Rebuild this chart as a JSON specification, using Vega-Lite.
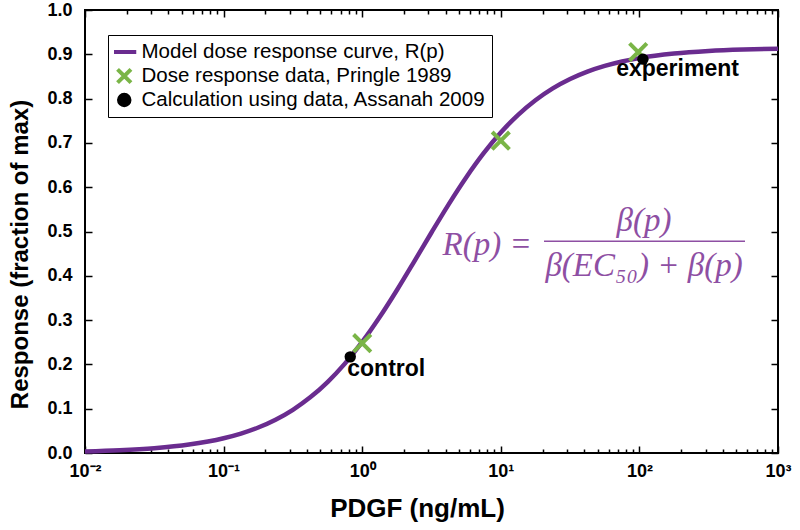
{
  "$schema": "https://vega.github.io/schema/vega-lite/v6.json",
  "width": 693,
  "height": 443,
  "autosize": {"type": "none"},
  "padding": {"left": 85, "top": 10, "right": 22, "bottom": 77},
  "background": "white",
  "datasets": {
    "curve": [
      {"p": 0.01, "r": 0.0034, "series": "Model dose response curve, R(p)"},
      {"p": 0.01778, "r": 0.0061, "series": "Model dose response curve, R(p)"},
      {"p": 0.03162, "r": 0.0108, "series": "Model dose response curve, R(p)"},
      {"p": 0.05623, "r": 0.019, "series": "Model dose response curve, R(p)"},
      {"p": 0.1, "r": 0.0333, "series": "Model dose response curve, R(p)"},
      {"p": 0.1334, "r": 0.0439, "series": "Model dose response curve, R(p)"},
      {"p": 0.1778, "r": 0.0575, "series": "Model dose response curve, R(p)"},
      {"p": 0.2371, "r": 0.0751, "series": "Model dose response curve, R(p)"},
      {"p": 0.3162, "r": 0.0975, "series": "Model dose response curve, R(p)"},
      {"p": 0.4217, "r": 0.1256, "series": "Model dose response curve, R(p)"},
      {"p": 0.5623, "r": 0.1602, "series": "Model dose response curve, R(p)"},
      {"p": 0.7499, "r": 0.2018, "series": "Model dose response curve, R(p)"},
      {"p": 1, "r": 0.2507, "series": "Model dose response curve, R(p)"},
      {"p": 1.3335, "r": 0.3063, "series": "Model dose response curve, R(p)"},
      {"p": 1.778, "r": 0.3674, "series": "Model dose response curve, R(p)"},
      {"p": 2.3714, "r": 0.4321, "series": "Model dose response curve, R(p)"},
      {"p": 3.162, "r": 0.4978, "series": "Model dose response curve, R(p)"},
      {"p": 4.217, "r": 0.5619, "series": "Model dose response curve, R(p)"},
      {"p": 5.623, "r": 0.6219, "series": "Model dose response curve, R(p)"},
      {"p": 7.499, "r": 0.6761, "series": "Model dose response curve, R(p)"},
      {"p": 10, "r": 0.7233, "series": "Model dose response curve, R(p)"},
      {"p": 13.335, "r": 0.7633, "series": "Model dose response curve, R(p)"},
      {"p": 17.78, "r": 0.7963, "series": "Model dose response curve, R(p)"},
      {"p": 23.714, "r": 0.823, "series": "Model dose response curve, R(p)"},
      {"p": 31.62, "r": 0.8442, "series": "Model dose response curve, R(p)"},
      {"p": 42.17, "r": 0.8609, "series": "Model dose response curve, R(p)"},
      {"p": 56.23, "r": 0.8738, "series": "Model dose response curve, R(p)"},
      {"p": 74.99, "r": 0.8838, "series": "Model dose response curve, R(p)"},
      {"p": 100, "r": 0.8914, "series": "Model dose response curve, R(p)"},
      {"p": 177.8, "r": 0.9016, "series": "Model dose response curve, R(p)"},
      {"p": 316.2, "r": 0.9074, "series": "Model dose response curve, R(p)"},
      {"p": 562.3, "r": 0.9107, "series": "Model dose response curve, R(p)"},
      {"p": 1000, "r": 0.9126, "series": "Model dose response curve, R(p)"}
    ],
    "pringle": [
      {"p": 1, "r": 0.248, "series": "Dose response data, Pringle 1989"},
      {"p": 10, "r": 0.705, "series": "Dose response data, Pringle 1989"},
      {"p": 98, "r": 0.905, "series": "Dose response data, Pringle 1989"}
    ],
    "assanah": [
      {"p": 0.82, "r": 0.217, "series": "Calculation using data, Assanah 2009"},
      {"p": 106, "r": 0.889, "series": "Calculation using data, Assanah 2009"}
    ],
    "labels": [
      {"p": 0.78, "r": 0.19, "label": "control"},
      {"p": 68, "r": 0.866, "label": "experiment"}
    ],
    "formulaLeft": [
      {"p": 3.8, "r": 0.469, "text": "R(p) ="}
    ],
    "formulaCenter": [
      {"p": 108, "r": 0.524, "text": "β(p)"},
      {"p": 108, "r": 0.423, "text": "β(EC₅₀) + β(p)"}
    ],
    "fracline": [
      {"p": 20.5, "p2": 578, "r": 0.478}
    ]
  },
  "layer": [
    {
      "data": {"name": "curve"},
      "mark": {"type": "line", "strokeWidth": 4.5, "interpolate": "monotone"},
      "encoding": {
        "x": {
          "field": "p", "type": "quantitative",
          "scale": {"type": "log", "domain": [0.01, 1000], "nice": false},
          "axis": {
            "orient": "bottom",
            "values": [0.01, 0.1, 1, 10, 100, 1000],
            "labelExpr": "datum.value == 0.01 ? '10⁻²' : datum.value == 0.1 ? '10⁻¹' : datum.value == 1 ? '10⁰' : datum.value == 10 ? '10¹' : datum.value == 100 ? '10²' : datum.value == 1000 ? '10³' : ''",
            "tickSize": -7,
            "labelPadding": 16,
            "labelFlush": false,
            "title": "PDGF (ng/mL)",
            "titleFontSize": 26,
            "titlePadding": 15,
            "titleX": 332
          }
        },
        "y": {
          "field": "r", "type": "quantitative",
          "scale": {"domain": [0, 1], "nice": false, "zero": false},
          "axis": {
            "orient": "left",
            "values": [0, 0.1, 0.2, 0.3, 0.4, 0.5, 0.6, 0.7, 0.8, 0.9, 1.0],
            "format": ".1f",
            "tickSize": -7,
            "labelPadding": 20,
            "title": "Response (fraction of max)",
            "titleFontSize": 24,
            "titlePadding": 14,
            "titleY": 244
          }
        },
        "color": {
          "field": "series", "type": "nominal",
          "scale": {
            "domain": ["Model dose response curve, R(p)", "Dose response data, Pringle 1989", "Calculation using data, Assanah 2009"],
            "range": ["#6a2c8f", "#7ab547", "#000000"]
          },
          "legend": {
            "orient": "none",
            "legendX": 23,
            "legendY": 25,
            "title": null,
            "strokeColor": "black",
            "fillColor": "white",
            "padding": 6,
            "labelFont": "Liberation Sans",
            "labelFontSize": 20.5,
            "labelColor": "black",
            "labelOffset": 7,
            "labelLimit": 500,
            "symbolSize": 441,
            "symbolStrokeWidth": 4,
            "symbolType": "stroke",
            "clipHeight": 22,
            "rowPadding": 2,
            "encode": {
              "symbols": {
                "update": {
                  "shape": {"signal": "datum.value === 'Model dose response curve, R(p)' ? 'stroke' : datum.value === 'Dose response data, Pringle 1989' ? 'M-1,-1L1,1M1,-1L-1,1' : 'circle'"},
                  "size": {"signal": "datum.value === 'Model dose response curve, R(p)' ? 576 : datum.value === 'Dose response data, Pringle 1989' ? 180 : 110"},
                  "fill": {"signal": "datum.value === 'Calculation using data, Assanah 2009' ? '#000000' : 'transparent'"},
                  "stroke": {"signal": "datum.value === 'Model dose response curve, R(p)' ? '#6a2c8f' : datum.value === 'Dose response data, Pringle 1989' ? '#7ab547' : 'transparent'"},
                  "strokeWidth": {"value": 4}
                }
              }
            }
          }
        }
      }
    },
    {
      "data": {"name": "pringle"},
      "mark": {"type": "point", "shape": "M-1,-1L1,1M1,-1L-1,1", "filled": false, "strokeWidth": 4, "size": 300, "opacity": 1},
      "encoding": {
        "x": {
          "field": "p", "type": "quantitative",
          "scale": {"type": "log", "domain": [0.01, 1000], "nice": false},
          "axis": {"orient": "top", "values": [0.01, 0.1, 1, 10, 100, 1000], "labels": false, "tickSize": -7, "title": null}
        },
        "y": {
          "field": "r", "type": "quantitative",
          "scale": {"domain": [0, 1], "nice": false, "zero": false},
          "axis": {"orient": "right", "values": [0, 0.1, 0.2, 0.3, 0.4, 0.5, 0.6, 0.7, 0.8, 0.9, 1.0], "labels": false, "tickSize": -7, "title": null}
        },
        "color": {
          "field": "series", "type": "nominal",
          "scale": {
            "domain": ["Model dose response curve, R(p)", "Dose response data, Pringle 1989", "Calculation using data, Assanah 2009"],
            "range": ["#6a2c8f", "#7ab547", "#000000"]
          }
        }
      }
    },
    {
      "data": {"name": "assanah"},
      "mark": {"type": "point", "shape": "circle", "filled": true, "size": 130, "opacity": 1},
      "encoding": {
        "x": {
          "field": "p", "type": "quantitative",
          "scale": {"type": "log", "domain": [0.01, 1000], "nice": false},
          "axis": {"orient": "bottom", "values": [0.02,0.03,0.04,0.05,0.06,0.07,0.08,0.09,0.2,0.3,0.4,0.5,0.6,0.7,0.8,0.9,2,3,4,5,6,7,8,9,20,30,40,50,60,70,80,90,200,300,400,500,600,700,800,900], "labels": false, "tickSize": -4, "title": null}
        },
        "y": {
          "field": "r", "type": "quantitative",
          "scale": {"domain": [0, 1], "nice": false, "zero": false},
          "axis": null
        },
        "color": {
          "field": "series", "type": "nominal",
          "scale": {
            "domain": ["Model dose response curve, R(p)", "Dose response data, Pringle 1989", "Calculation using data, Assanah 2009"],
            "range": ["#6a2c8f", "#7ab547", "#000000"]
          }
        }
      }
    },
    {
      "data": {"name": "labels"},
      "mark": {"type": "text", "align": "left", "baseline": "middle", "font": "Liberation Sans", "fontWeight": "bold", "fontSize": 23, "color": "black"},
      "encoding": {
        "x": {
          "field": "p", "type": "quantitative",
          "scale": {"type": "log", "domain": [0.01, 1000], "nice": false},
          "axis": {"orient": "top", "values": [0.02,0.03,0.04,0.05,0.06,0.07,0.08,0.09,0.2,0.3,0.4,0.5,0.6,0.7,0.8,0.9,2,3,4,5,6,7,8,9,20,30,40,50,60,70,80,90,200,300,400,500,600,700,800,900], "labels": false, "tickSize": -4, "title": null}
        },
        "y": {
          "field": "r", "type": "quantitative",
          "scale": {"domain": [0, 1], "nice": false, "zero": false},
          "axis": null
        },
        "text": {"field": "label"}
      }
    },
    {
      "data": {"name": "formulaLeft"},
      "mark": {"type": "text", "align": "left", "baseline": "middle", "font": "Liberation Serif", "fontStyle": "italic", "fontSize": 33, "color": "#8e4fa3"},
      "encoding": {
        "x": {
          "field": "p", "type": "quantitative",
          "scale": {"type": "log", "domain": [0.01, 1000], "nice": false},
          "axis": null
        },
        "y": {
          "field": "r", "type": "quantitative",
          "scale": {"domain": [0, 1], "nice": false, "zero": false},
          "axis": null
        },
        "text": {"field": "text"}
      }
    },
    {
      "data": {"name": "formulaCenter"},
      "mark": {"type": "text", "align": "center", "baseline": "middle", "font": "Liberation Serif", "fontStyle": "italic", "fontSize": 33, "color": "#8e4fa3"},
      "encoding": {
        "x": {
          "field": "p", "type": "quantitative",
          "scale": {"type": "log", "domain": [0.01, 1000], "nice": false},
          "axis": null
        },
        "y": {
          "field": "r", "type": "quantitative",
          "scale": {"domain": [0, 1], "nice": false, "zero": false},
          "axis": null
        },
        "text": {"field": "text"}
      }
    },
    {
      "data": {"name": "fracline"},
      "mark": {"type": "rule", "strokeWidth": 1.5, "color": "#8e4fa3"},
      "encoding": {
        "x": {
          "field": "p", "type": "quantitative",
          "scale": {"type": "log", "domain": [0.01, 1000], "nice": false},
          "axis": null
        },
        "x2": {"field": "p2"},
        "y": {
          "field": "r", "type": "quantitative",
          "scale": {"domain": [0, 1], "nice": false, "zero": false},
          "axis": null
        }
      }
    }
  ],
  "resolve": {"axis": {"x": "independent", "y": "independent"}},
  "config": {
    "view": {"stroke": "black", "strokeWidth": 2},
    "axis": {
      "domain": false,
      "grid": false,
      "tickColor": "black",
      "tickWidth": 1.5,
      "labelColor": "black",
      "labelFont": "Liberation Sans",
      "labelFontWeight": "bold",
      "labelFontSize": 18,
      "titleFont": "Liberation Sans",
      "titleFontWeight": "bold",
      "titleFontSize": 20,
      "titleColor": "black"
    }
  }
}
